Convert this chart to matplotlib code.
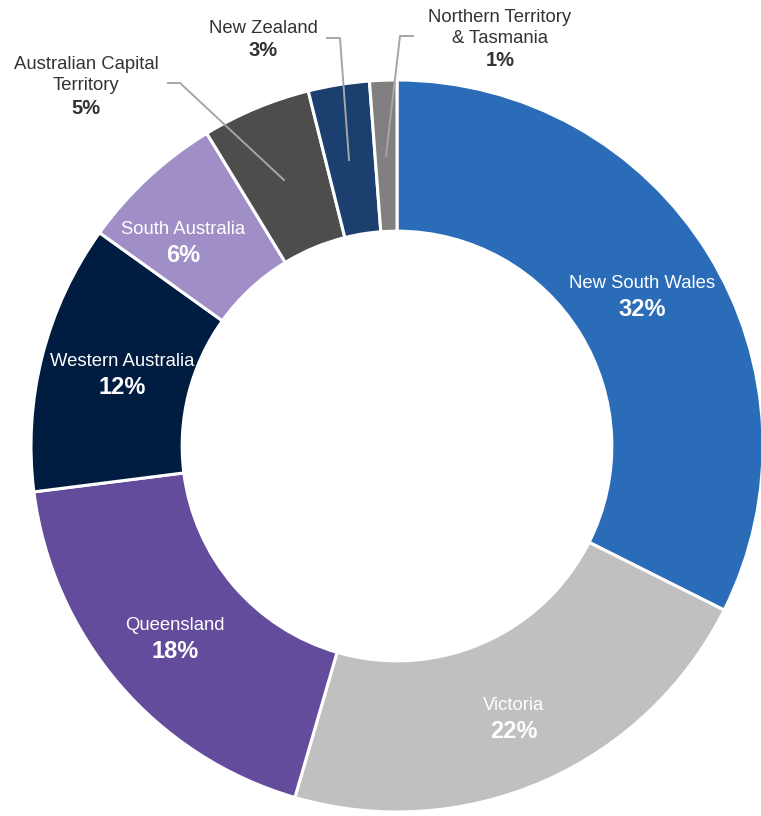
import numpy as np
import matplotlib
matplotlib.use("Agg")
import matplotlib.pyplot as plt

plt.rcParams['font.family'] = ['Liberation Sans', 'DejaVu Sans']

regions = ["New South Wales", "Victoria", "Queensland", "Western Australia",
           "South Australia", "Australian Capital\nTerritory", "New Zealand",
           "Northern Territory\n& Tasmania"]
shares = [32.4, 22.1, 18.5, 11.9, 6.4, 4.8, 2.7, 1.2]
pct_labels = ["32%", "22%", "18%", "12%", "6%", "5%", "3%", "1%"]
colors = ["#2B6CB8", "#C0C0C0", "#634C9B", "#001C40", "#A08FC6",
          "#4D4D4D", "#1B3F6E", "#808080"]

W, H = 761, 816
fig = plt.figure(figsize=(W / 100, H / 100), dpi=100)
cx, cy, R = 397, 446, 366
ax = fig.add_axes([(cx - R) / W, (H - cy - R) / H, 2 * R / W, 2 * R / H])

wedges, _ = ax.pie(shares, colors=colors, startangle=90, counterclock=False,
                   radius=1.0,
                   wedgeprops=dict(width=0.413, edgecolor='white', linewidth=2.2))
ax.set_xlim(-1, 1)
ax.set_ylim(-1, 1)
ax.set_aspect('equal')
ax.axis('off')

def px(x, y):
    return ((x - cx) / R, (cy - y) / R)

NAME_FS = 13.3
PCT_FS = 17

# inside label anchor positions (pixel centres of name line)
inside_pos = {0: (642, 283), 1: (514, 705), 2: (175, 626), 3: (122, 362), 4: (183, 230)}
for i, (lx, ly) in inside_pos.items():
    ax.text(*px(lx, ly), regions[i], ha='center', va='center', color='white',
            fontsize=NAME_FS)
    ax.text(*px(lx, ly + 26), pct_labels[i], ha='center', va='center',
            color='white', fontsize=PCT_FS, fontweight='bold')

# outside labels with leader lines
tc = '#333333'
lc = '#A6A6A6'
OUT_PCT = 14.5
# ACT
ax.text(*px(86, 75), regions[5], ha='center', va='center', color=tc,
        fontsize=NAME_FS, linespacing=1.3)
ax.text(*px(86, 108), pct_labels[5], ha='center', va='center', color=tc,
        fontsize=OUT_PCT, fontweight='bold')
xs, ys = zip(px(168, 83), px(180, 83), px(284, 180))
ax.plot(xs, ys, color=lc, lw=1.4, clip_on=False)
# NZ
ax.text(*px(263, 28), regions[6], ha='center', va='center', color=tc,
        fontsize=NAME_FS)
ax.text(*px(263, 50), pct_labels[6], ha='center', va='center', color=tc,
        fontsize=OUT_PCT, fontweight='bold')
xs, ys = zip(px(327, 38), px(340, 38), px(349, 160))
ax.plot(xs, ys, color=lc, lw=1.4, clip_on=False)
# NT & Tas
ax.text(*px(500, 28), regions[7], ha='center', va='center', color=tc,
        fontsize=NAME_FS, linespacing=1.3)
ax.text(*px(500, 61), pct_labels[7], ha='center', va='center', color=tc,
        fontsize=OUT_PCT, fontweight='bold')
xs, ys = zip(px(413, 36), px(400, 36), px(386, 156))
ax.plot(xs, ys, color=lc, lw=1.4, clip_on=False)

fig.savefig("out.png", dpi=100)
